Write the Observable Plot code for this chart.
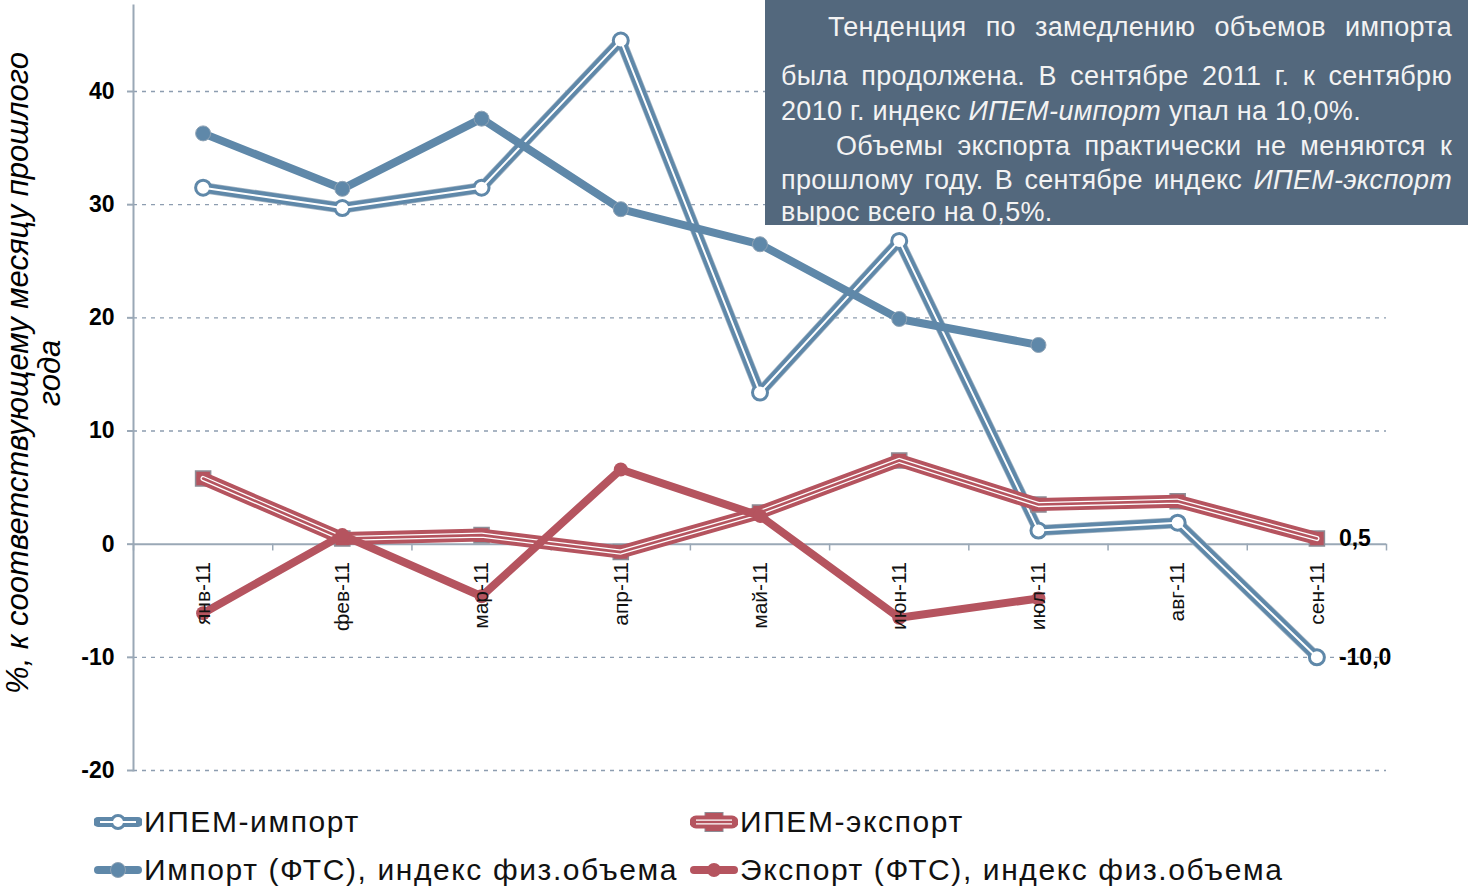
<!DOCTYPE html>
<html>
<head>
<meta charset="utf-8">
<script src="https://cdn.jsdelivr.net/npm/d3@7"></script>
<script src="https://cdn.jsdelivr.net/npm/@observablehq/plot@0.6"></script>
<style>
  html, body { margin: 0; padding: 0; background: #fff; }
  #page { position: relative; width: 1468px; height: 887px; overflow: hidden; font-family: "Liberation Sans", Arial, sans-serif; }
  #chart { position: absolute; left: 0; top: 0; }
  #note { position: absolute; left: 765px; top: 0; width: 703px; height: 225px; background: #53687d; color: #f3f3f3; font-size: 27px; }
  #note .ln { position: absolute; height: 32px; line-height: 32px; white-space: nowrap; letter-spacing: 0.3px; }
  #note .j { text-align: justify; text-align-last: justify; }
  #note i { font-style: italic; }
  .leg { position: absolute; display: flex; align-items: center; font-size: 30px; color: #111; white-space: nowrap; letter-spacing: 1.6px; }
  .leg svg { margin-right: 2px; }
</style>
</head>
<body>
<div id="page">
  <div id="chart"></div>
  <div id="note"></div>
  <div id="legend"></div>
</div>
<script>
// ---- data ----
const months = ["янв-11","фев-11","мар-11","апр-11","май-11","июн-11","июл-11","авг-11","сен-11"];
const ipemImport = [31.5, 29.7, 31.5, 44.5, 13.4, 26.8, 1.2, 1.9, -10.0];
const ipemExport = [5.8, 0.5, 0.8, -0.7, 2.8, 7.4, 3.5, 3.8, 0.5];
const ftsImport = [36.3, 31.4, 37.6, 29.6, 26.5, 19.9, 17.6];
const ftsExport = [-6.1, 0.8, -4.6, 6.6, 2.5, -6.5, -4.8];
const yTicks = [-20, -10, 0, 10, 20, 30, 40];
const endLabels = [{series: "ipemExport", text: "0,5"}, {series: "ipemImport", text: "-10,0"}];
const seriesNames = ["ИПЕМ-импорт", "ИПЕМ-экспорт", "Импорт (ФТС), индекс физ.объема", "Экспорт (ФТС), индекс физ.объема"];
const yLabel = "%, к соответствующему месяцу прошлого\nгода";
const noteLines = [
  "Тенденция по замедлению объемов импорта",
  "была продолжена. В сентябре 2011 г. к сентябрю",
  "2010 г. индекс <i>ИПЕМ-импорт</i> упал на 10,0%.",
  "Объемы экспорта практически не меняются к",
  "прошлому году. В сентябре индекс <i>ИПЕМ-экспорт</i>",
  "вырос всего на 0,5%."
];

const BLUE = "#5f88a9";
const RED = "#b5545f";
const AXIS = "#9aa8b6";

const toRows = arr => arr.map((v, i) => ({i, m: months[i], v}));
const rII = toRows(ipemImport), rIE = toRows(ipemExport), rFI = toRows(ftsImport), rFE = toRows(ftsExport);
const lastIdx = months.length - 1;
const endRows = endLabels.map(e => ({i: lastIdx, v: (e.series === "ipemExport" ? ipemExport : ipemImport)[lastIdx], text: e.text}));
const boundaries = months.map((_, i) => i - 0.5).concat([months.length - 0.5]);
const grid = yTicks.filter(t => t !== 0);

const chart = Plot.plot({
  width: 1468,
  height: 790,
  marginLeft: 133,
  marginRight: 82,
  marginTop: 5,
  marginBottom: 20,
  x: {type: "linear", domain: [-0.5, months.length - 0.5], axis: null},
  y: {domain: [-20, 47.6], axis: null},
  style: {fontFamily: "Liberation Sans, Arial, sans-serif", background: "transparent"},
  marks: [
    Plot.ruleY(grid, {stroke: "#8d9db0", strokeWidth: 1.3, strokeDasharray: "4,5"}),
    Plot.ruleY([0], {stroke: AXIS, strokeWidth: 2}),
    Plot.frame({anchor: "left", stroke: AXIS, strokeWidth: 2}),
    Plot.ruleX(boundaries, {y1: 0, y2: -0.6, stroke: AXIS, strokeWidth: 1.5}),
    Plot.axisY({ticks: yTicks, tickSize: 6, tickPadding: 13, stroke: AXIS, strokeWidth: 2, fill: "#000", fontSize: 23, fontWeight: "bold", tickFormat: d => String(d), label: null, style: "letter-spacing:0.8px"}),
    Plot.text([yLabel], {frameAnchor: "left", text: d => d, rotate: -90, textAnchor: "middle", dx: -100, dy: -15, fontSize: 31, fontStyle: "italic", fill: "#000", lineHeight: 1.06, style: "letter-spacing:0.4px"}),
    // ИПЕМ-импорт (double line, ring markers)
    Plot.line(rII, {x: "i", y: "v", stroke: "#a3b4c3", strokeWidth: 11}),
    Plot.line(rII, {x: "i", y: "v", stroke: BLUE, strokeWidth: 9.5}),
    Plot.dot(rII, {x: "i", y: "v", r: 7.5, fill: "#fff", stroke: BLUE, strokeWidth: 3}),
    Plot.line(rII, {x: "i", y: "v", stroke: "#fff", strokeWidth: 2}),
    // ИПЕМ-экспорт (triple line, square markers)
    Plot.dot(rIE, {x: "i", y: "v", symbol: "square", r: 8.5, fill: RED, stroke: "#8d8d96", strokeWidth: 1.5}),
    Plot.line(rIE, {x: "i", y: "v", stroke: RED, strokeWidth: 13}),
    Plot.line(rIE, {x: "i", y: "v", stroke: "#fff", strokeWidth: 5.2}),
    Plot.line(rIE, {x: "i", y: "v", stroke: RED, strokeWidth: 2.6}),
    // Импорт ФТС
    Plot.line(rFI, {x: "i", y: "v", stroke: BLUE, strokeWidth: 8}),
    Plot.dot(rFI, {x: "i", y: "v", r: 7.5, fill: BLUE, stroke: "#8fa3b5", strokeWidth: 1}),
    // Экспорт ФТС
    Plot.line(rFE, {x: "i", y: "v", stroke: RED, strokeWidth: 8}),
    Plot.dot(rFE, {x: "i", y: "v", r: 7, fill: RED}),
    // category labels (drawn over the lines, as in the reference)
    Plot.text(months, {x: (d, i) => i, y: 0, text: d => d, rotate: -90, textAnchor: "end", dy: 18, fontSize: 21, fill: "#111", style: "letter-spacing:1.4px"}),
    // end value labels
    Plot.text(endRows, {x: "i", y: "v", text: "text", textAnchor: "start", dx: 22, fontSize: 23, fontWeight: "bold", fill: "#000"})
  ]
});
document.getElementById("chart").appendChild(chart);

// ---- annotation box ----
const note = document.getElementById("note");
const noteLayout = [
  {left: 828, width: 624, cy: 27, j: true},
  {left: 781, width: 671, cy: 76, j: true},
  {left: 781, width: 671, cy: 111, j: false},
  {left: 836, width: 616, cy: 146, j: true},
  {left: 781, width: 671, cy: 180, j: true},
  {left: 781, width: 671, cy: 212, j: false}
];
noteLines.forEach((t, k) => {
  const L = noteLayout[k];
  const d = document.createElement("div");
  d.className = "ln" + (L.j ? " j" : "");
  d.style.left = (L.left - 765) + "px";
  d.style.width = L.width + "px";
  d.style.top = (L.cy - 16) + "px";
  d.innerHTML = t;
  note.appendChild(d);
});

// ---- legend ----
function swatch(kind) {
  const ns = "http://www.w3.org/2000/svg";
  const s = document.createElementNS(ns, "svg");
  s.setAttribute("width", 48); s.setAttribute("height", 26);
  const add = (tag, attrs) => { const e = document.createElementNS(ns, tag); for (const k in attrs) e.setAttribute(k, attrs[k]); s.appendChild(e); };
  if (kind === 0) {
    add("line", {x1: 4, y1: 13, x2: 44, y2: 13, stroke: BLUE, "stroke-width": 10, "stroke-linecap": "round"});
    add("circle", {cx: 24, cy: 13, r: 6.5, fill: "#fff", stroke: BLUE, "stroke-width": 3});
    add("line", {x1: 6, y1: 13, x2: 42, y2: 13, stroke: "#fff", "stroke-width": 2});
  } else if (kind === 1) {
    add("rect", {x: 15, y: 3.5, width: 18, height: 19, fill: RED, stroke: "#8d8d96", "stroke-width": 1});
    add("line", {x1: 6, y1: 13, x2: 42, y2: 13, stroke: RED, "stroke-width": 13, "stroke-linecap": "round"});
    add("line", {x1: 6, y1: 13, x2: 42, y2: 13, stroke: "#fff", "stroke-width": 5.2});
    add("line", {x1: 6, y1: 13, x2: 42, y2: 13, stroke: RED, "stroke-width": 2.6});
  } else if (kind === 2) {
    add("line", {x1: 4, y1: 13, x2: 44, y2: 13, stroke: BLUE, "stroke-width": 8, "stroke-linecap": "round"});
    add("circle", {cx: 24, cy: 13, r: 7.5, fill: BLUE, stroke: "#8fa3b5", "stroke-width": 1});
  } else {
    add("line", {x1: 4, y1: 13, x2: 44, y2: 13, stroke: RED, "stroke-width": 8, "stroke-linecap": "round"});
    add("circle", {cx: 24, cy: 13, r: 7, fill: RED});
  }
  return s;
}
const legPos = [{left: 94, cy: 822}, {left: 690, cy: 822}, {left: 94, cy: 870}, {left: 690, cy: 870}];
const legend = document.getElementById("legend");
seriesNames.forEach((name, k) => {
  const d = document.createElement("div");
  d.className = "leg";
  d.style.left = legPos[k].left + "px";
  d.style.top = (legPos[k].cy - 18) + "px";
  d.style.height = "36px";
  d.appendChild(swatch(k));
  const sp = document.createElement("span");
  sp.textContent = name;
  d.appendChild(sp);
  legend.appendChild(d);
});
</script>
</body>
</html>
